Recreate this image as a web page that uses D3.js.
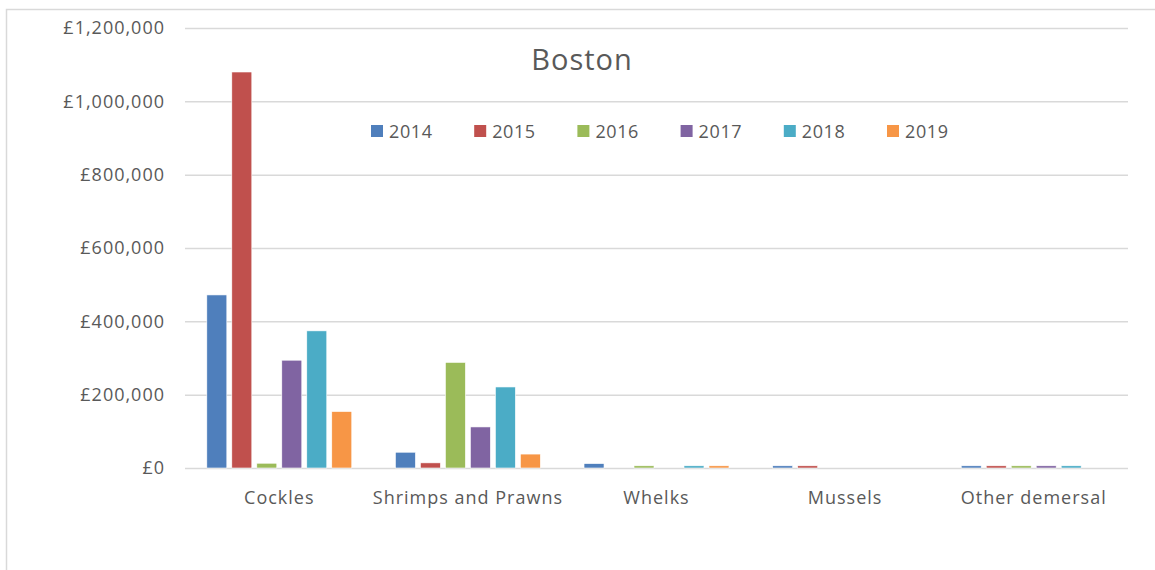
<!DOCTYPE html>
<html><head><meta charset="utf-8">
<script src="https://cdn.jsdelivr.net/npm/d3@7"></script>
<style>body{margin:0;background:#fff;} svg{display:block;}</style>
</head><body>
<svg id="c" width="1155" height="570"></svg>
<script>
const categories = ["Cockles", "Shrimps and Prawns", "Whelks", "Mussels", "Other demersal"];
const years = ["2014", "2015", "2016", "2017", "2018", "2019"];
const colors = ["#4f7fbc", "#c0504d", "#9bbb59", "#8064a2", "#4bacc6", "#f79646"];
const v2014 = [472000, 43000, 12000, 6000, 6000];
const v2015 = [1080000, 14000, 0, 6000, 6000];
const v2016 = [13000, 288000, 6000, 0, 6000];
const v2017 = [294000, 112000, 0, 0, 6000];
const v2018 = [374000, 221000, 6000, 0, 6000];
const v2019 = [154000, 38000, 6000, 0, 0];
const seriesValues = [v2014, v2015, v2016, v2017, v2018, v2019];
const yTicks = [0, 200000, 400000, 600000, 800000, 1000000, 1200000];

const svg = d3.select("#c");
const font = "'Open Sans', Lato, sans-serif";
const textCol = "#595959";
const L = 185, R = 1128, T = 28, B = 468;

// outer border
svg.append("path").attr("d", `M6.5,570 V9.5 H1155`).attr("fill","none").attr("stroke","#d9d9d9").attr("stroke-width",1.5);

const y = d3.scaleLinear().domain([0, 1200000]).range([B, T]);
const x0 = d3.scaleBand().domain(categories).range([L, R]).paddingInner(0.205).paddingOuter(0.1025);
const x1 = d3.scaleBand().domain(years).range([0, x0.bandwidth()]).paddingInner(0.2).paddingOuter(0.1);

// gridlines
const yAxis = d3.axisLeft(y).tickValues(yTicks).tickSize(-(R - L)).tickPadding(20)
  .tickFormat(d => "£" + d3.format(",")(d));
const gy = svg.append("g").attr("transform", `translate(${L},0)`).call(yAxis);
gy.select(".domain").remove();
gy.selectAll(".tick line").attr("stroke", "#d9d9d9").attr("stroke-width", 1.5);
gy.selectAll(".tick text").attr("fill", textCol).style("font-family", font).style("font-size", "18px").style("letter-spacing", "1px");

// bars
const data = [];
categories.forEach((c, i) => years.forEach((yr, j) => data.push({c, yr, v: seriesValues[j][i], col: colors[j]})));
svg.append("g").selectAll("rect").data(data.filter(d => d.v > 0)).join("rect")
  .attr("x", d => x0(d.c) + x1(d.yr))
  .attr("width", x1.bandwidth())
  .attr("y", d => y(d.v))
  .attr("height", d => y(0) - y(d.v))
  .attr("fill", d => d.col)
  .attr("stroke", "#ffffff").attr("stroke-width", 0.6);

// x axis labels
const xAxis = d3.axisBottom(x0).tickSize(0).tickPadding(23);
const gx = svg.append("g").attr("transform", `translate(0,${B})`).call(xAxis);
gx.select(".domain").remove();
gx.selectAll(".tick text").attr("fill", textCol).style("font-family", font).style("font-size", "18px").style("letter-spacing", "1px");

// title
svg.append("text").attr("x", 582).attr("y", 70).attr("text-anchor", "middle")
  .attr("fill", textCol).style("font-family", font).style("font-size", "29px").style("letter-spacing", "1px").text("Boston");

// legend
const lg = svg.append("g");
years.forEach((yr, j) => {
  const lx = 371 + j * 103.2;
  lg.append("rect").attr("x", lx).attr("y", 125).attr("width", 12).attr("height", 12).attr("fill", colors[j]);
  lg.append("text").attr("x", lx + 18).attr("y", 138).attr("fill", textCol)
    .style("font-family", font).style("font-size", "18px").style("letter-spacing", "0.6px").text(yr);
});
</script>
</body></html>
